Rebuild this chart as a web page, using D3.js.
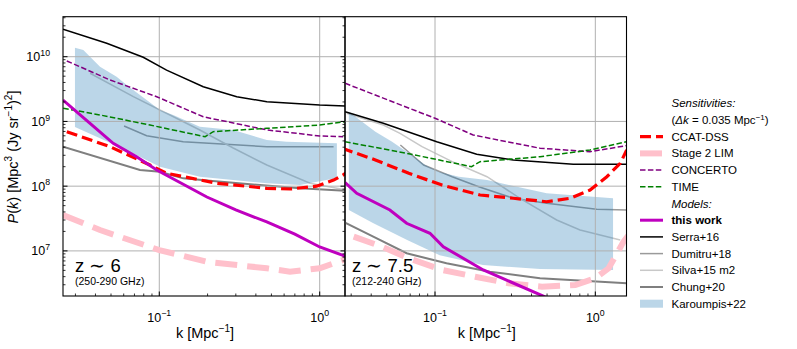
<!DOCTYPE html>
<html>
<head>
<meta charset="utf-8">
<script src="https://cdn.jsdelivr.net/npm/d3@7"></script>
<style>
body { margin: 0; background: #fff; }
text { font-family: "Liberation Sans", Arial, sans-serif; fill: #000; }
</style>
</head>
<body>
<div id="container"></div>
<script>
// axis limits and ticks
var xDomain6 = [0.0251, 1.438];
var xDomain75 = [0.02745, 1.565];
var yDomain = [2.01e6, 4.15e10];
var xTicks = [0.1, 1];
var xTickExp = ["\u22121", "0"];
var yTicks = [1e7, 1e8, 1e9, 1e10];
var yTickExp = ["7", "8", "9", "10"];

// z ~ 6 panel, [k, P(k)]
var serra6 = [[0.0251,2.65e10],[0.047,1.61e10],[0.0794,9.8e9],[0.111,6.2e9],[0.188,3.44e9],[0.304,2.41e9],[0.468,2.02e9],[1.0,1.79e9],[1.44,1.73e9]];
var dumitru6 = [[0.0603,8.5e8],[0.0834,6.03e8],[0.141,4.87e8],[0.468,4.07e8],[1.22,4.07e8]];
var silva6 = [[0.037,5.55e9],[0.0689,2.41e9],[0.101,1.5e9],[0.179,7.38e8],[0.289,3.89e8],[0.468,2.12e8],[0.871,1.11e8],[1.47,8.7e7]];
var chung6 = [[0.0251,4.07e8],[0.0758,1.78e8],[0.101,1.67e8],[0.141,1.32e8],[0.207,1.21e8],[0.753,9.27e7],[1.47,8.5e7]];
var thiswork6 = [[0.0251,2.14e9],[0.037,9.36e8],[0.0516,4.59e8],[0.0722,2.85e8],[0.0964,1.78e8],[0.198,6.8e7],[0.3,4.29e7],[0.468,2.8e7],[0.7,1.82e7],[1.0,1.15e7],[1.44,8.3e6]];
var ccat6 = [[0.0265,6.94e8],[0.0493,4.07e8],[0.0875,2.12e8],[0.111,1.58e8],[0.228,1.11e8],[0.468,9.27e7],[0.653,9.04e7],[0.957,1.0e8],[1.22,1.24e8],[1.40,1.49e8],[1.6,1.9e8]];
var stage2_6 = [[0.0251,3.58e7],[0.0427,2.1e7],[0.1,1.03e7],[0.198,6.8e6],[0.468,5.38e6],[0.653,4.77e6],[1.0,5.38e6],[1.40,7.24e6],[1.6,9e6]];
var concerto6 = [[0.0265,8.6e9],[0.0493,4.37e9],[0.0964,2.41e9],[0.188,1.18e9],[0.468,7.4e8],[1.0,5.96e8],[1.40,5.8e8]];
var time6 = [[0.0252,1.6e9],[0.0427,1.26e9],[0.0875,8.8e8],[0.193,5.8e8],[0.217,6.94e8],[0.468,7.83e8],[1.0,8.8e8],[1.43,9.9e8]];
var karoumpis6Hi = [[0.0298,1.38e10],[0.0336,1.27e10],[0.0427,7.0e9],[0.0542,4.9e9],[0.0626,3.65e9],[0.101,1.5e9],[0.122,1.26e9],[0.179,8.3e8],[0.289,7.4e8],[0.468,5.17e8],[0.623,4.87e8],[1.28,4.59e8]];
var karoumpis6Lo = [[0.0298,8.2e8],[0.0427,5.5e8],[0.0626,3.6e8],[0.101,2.0e8],[0.179,1.4e8],[0.468,1.11e8],[0.753,1.04e8],[1.28,1.34e8]];

// z ~ 7.5 panel
var serra75 = [[0.0275,1.41e9],[0.0476,9.4e8],[0.1025,4.86e8],[0.182,3.11e8],[0.308,2.54e8],[0.729,2.18e8],[1.56,2.18e8]];
var dumitru75 = [[0.0608,4.33e8],[0.085,2.12e8],[0.128,1.4e8],[0.1875,9.8e7],[0.308,6.5e7],[0.497,5.43e7],[1.02,4.39e7],[1.57,4.29e7]];
var silva75 = [[0.0281,1.34e9],[0.0476,8.8e8],[0.0605,6.56e8],[0.083,4.07e8],[0.128,2.39e8],[0.211,1.4e8],[0.339,6.5e7],[0.574,3.0e7],[0.803,2.1e7],[1.43,1.47e7]];
var chung75 = [[0.0255,3.0e7],[0.0412,1.66e7],[0.0665,9.2e6],[0.118,6.43e6],[0.22,4.77e6],[0.452,3.78e6],[1.57,3.16e6]];
var thiswork75 = [[0.0275,1.14e8],[0.0325,7.76e7],[0.0523,4.29e7],[0.0665,2.67e7],[0.093,1.87e7],[0.1127,1.16e7],[0.2,5.07e6],[0.474,2.0e6],[0.6,1.5e6]];
var ccat75 = [[0.0263,3.85e8],[0.0425,2.54e8],[0.0686,1.58e8],[0.1106,1.04e8],[0.191,7.3e7],[0.308,6.5e7],[0.497,5.75e7],[0.695,6.5e7],[0.927,8.7e7],[1.18,1.4e8],[1.43,2.25e8],[1.57,3.62e8]];
var stage2_75 = [[0.0311,1.66e7],[0.0467,1.16e7],[0.0686,7.68e6],[0.1106,5.07e6],[0.178,3.99e6],[0.288,3.16e6],[0.465,2.8e6],[0.75,2.97e6],[1.0,3.77e6],[1.21,5.38e6],[1.50,1.39e7],[1.6,1.7e7]];
var concerto75 = [[0.0275,3.88e9],[0.1,1.12e9],[0.173,6.17e8],[0.452,3.85e8],[0.927,3.41e8],[1.56,4.22e8]];
var time75 = [[0.0275,4.86e8],[0.0665,3.22e8],[0.169,2.0e8],[0.191,2.39e8],[0.452,2.85e8],[0.927,3.62e8],[1.56,4.86e8]];
var karoumpis75Hi = [[0.029,1.41e9],[0.0351,9.9e8],[0.0425,6.9e8],[0.054,4.86e8],[0.0686,3.22e8],[0.087,2.12e8],[0.105,1.67e8],[0.141,1.4e8],[0.211,1.24e8],[0.497,7.76e7],[1.29,6.5e7]];
var karoumpis75Lo = [[0.029,4.29e7],[0.041,2.7e7],[0.067,1.47e7],[0.107,8.6e6],[0.199,6.06e6],[0.452,5.25e6],[1.29,5.07e6]];

// legend text
var sensNames = ["CCAT-DSS", "Stage 2 LIM", "CONCERTO", "TIME"];
var modelNames = ["this work", "Serra+16", "Dumitru+18", "Silva+15 m2", "Chung+20", "Karoumpis+22"];

// styles
var styles = {
    dumitru:  {color: "#9a9a9a", width: 1.5},
    silva:    {color: "#c8c8c8", width: 1.5},
    chung:    {color: "#7f7f7f", width: 2},
    serra:    {color: "#000000", width: 1.5},
    stage2:   {color: "#ffc0cb", width: 6, dash: "22,10"},
    ccat:     {color: "#ff0000", width: 3.2, dash: "11,5"},
    concerto: {color: "#800080", width: 1.5, dash: "5.5,2.4"},
    time:     {color: "#008000", width: 1.5, dash: "5.5,2.4"},
    thiswork: {color: "#bf00bf", width: 3}
};
var fillColor = "rgba(31,119,180,0.3)";

var width = 797, height = 349;
var plotTop = 16.7, plotBottom = 296;

var panels = [
    {x0: 63, x1: 345, domain: xDomain6, z: "z \u223C 6", band: "(250-290 GHz)",
     lines: {dumitru: dumitru6, silva: silva6, chung: chung6, serra: serra6, stage2: stage2_6, ccat: ccat6, concerto: concerto6, time: time6, thiswork: thiswork6},
     hi: karoumpis6Hi, lo: karoumpis6Lo},
    {x0: 345, x1: 626.5, domain: xDomain75, z: "z \u223C 7.5", band: "(212-240 GHz)",
     lines: {dumitru: dumitru75, silva: silva75, chung: chung75, serra: serra75, stage2: stage2_75, ccat: ccat75, concerto: concerto75, time: time75, thiswork: thiswork75},
     hi: karoumpis75Hi, lo: karoumpis75Lo}
];

var svg = d3.select("#container")
    .append("svg")
    .attr("width", width)
    .attr("height", height);

var y = d3.scaleLog().domain(yDomain).range([plotBottom, plotTop]);

// minor tick values for a log axis
function minorTicks(domain) {
    var out = [];
    for (var e = Math.floor(Math.log10(domain[0])); e <= Math.ceil(Math.log10(domain[1])); e++) {
        for (var m = 2; m <= 9; m++) {
            var v = m * Math.pow(10, e);
            if (v >= domain[0] && v <= domain[1]) out.push(v);
        }
    }
    return out;
}

function powLabel(sel, exp, size) {
    sel.append("tspan").text("10");
    sel.append("tspan").attr("font-size", size * 0.7).attr("dy", -size * 0.42).text(exp);
}

var linesUnder = ["dumitru", "silva", "chung"];
var linesOver = ["serra", "stage2", "ccat", "concerto", "time", "thiswork"];

panels.forEach(function(p, i) {
    var x = d3.scaleLog().domain(p.domain).range([p.x0, p.x1]);
    var line = d3.line().x(function(d) { return x(d[0]); }).y(function(d) { return y(d[1]); });

    svg.append("clipPath").attr("id", "clip" + i)
        .append("rect").attr("x", p.x0).attr("y", plotTop)
        .attr("width", p.x1 - p.x0).attr("height", plotBottom - plotTop);

    var g = svg.append("g").attr("clip-path", "url(#clip" + i + ")");

    linesUnder.forEach(function(key) {
        var s = styles[key];
        g.append("path").attr("d", line(p.lines[key]))
            .attr("fill", "none").attr("stroke", s.color).attr("stroke-width", s.width);
    });

    // Karoumpis+22 band
    g.append("path")
        .attr("d", line(p.hi.concat(p.lo.slice().reverse())) + "Z")
        .attr("fill", fillColor).attr("stroke", "none");

    // grid
    g.selectAll(".gx").data(xTicks).enter().append("line")
        .attr("x1", function(d) { return x(d); }).attr("x2", function(d) { return x(d); })
        .attr("y1", plotTop).attr("y2", plotBottom)
        .attr("stroke", "#b0b0b0").attr("stroke-width", 1);
    g.selectAll(".gy").data(yTicks).enter().append("line")
        .attr("x1", p.x0).attr("x2", p.x1)
        .attr("y1", function(d) { return y(d); }).attr("y2", function(d) { return y(d); })
        .attr("stroke", "#b0b0b0").attr("stroke-width", 1);

    linesOver.forEach(function(key) {
        var s = styles[key];
        g.append("path").attr("d", line(p.lines[key]))
            .attr("fill", "none").attr("stroke", s.color).attr("stroke-width", s.width)
            .attr("stroke-dasharray", s.dash || null);
    });

    // bottom ticks, inward
    var ax = svg.append("g");
    ax.selectAll(".mx").data(minorTicks(p.domain)).enter().append("line")
        .attr("x1", function(d) { return x(d); }).attr("x2", function(d) { return x(d); })
        .attr("y1", plotBottom).attr("y2", plotBottom - 2.5)
        .attr("stroke", "#000").attr("stroke-width", 0.8);
    ax.selectAll(".tx").data(xTicks).enter().append("line")
        .attr("x1", function(d) { return x(d); }).attr("x2", function(d) { return x(d); })
        .attr("y1", plotBottom).attr("y2", plotBottom - 4.5)
        .attr("stroke", "#000").attr("stroke-width", 1);
    xTicks.forEach(function(t, j) {
        var tx = ax.append("text").attr("x", x(t)).attr("y", 321.5)
            .attr("text-anchor", "middle").attr("font-size", 12.5);
        powLabel(tx, xTickExp[j], 12.5);
    });

    var xl = ax.append("text").attr("x", (p.x0 + p.x1) / 2 + 1).attr("y", 338)
        .attr("text-anchor", "middle").attr("font-size", 14.5);
    xl.append("tspan").text("k [Mpc");
    xl.append("tspan").attr("font-size", 10).attr("dy", -6).text("\u22121");
    xl.append("tspan").attr("dy", 6).text("]");

    // redshift labels
    ax.append("text").attr("x", p.x0 + (i === 0 ? 12 : 7)).attr("y", 271.5)
        .attr("font-size", 18.5).text(p.z);
    ax.append("text").attr("x", p.x0 + (i === 0 ? 12 : 7)).attr("y", 284.5)
        .attr("font-size", 10.5).text(p.band);

    // frame
    ax.append("rect").attr("x", p.x0).attr("y", plotTop)
        .attr("width", p.x1 - p.x0).attr("height", plotBottom - plotTop)
        .attr("fill", "none").attr("stroke", "#000").attr("stroke-width", 1.1);
});

// y ticks on the left panel: left and right spines, pointing inward
var yl = svg.append("g");
[[63, 1], [345, -1]].forEach(function(side) {
    yl.selectAll(null).data(minorTicks(yDomain)).enter().append("line")
        .attr("x1", side[0]).attr("x2", side[0] + side[1] * 2.5)
        .attr("y1", function(d) { return y(d); }).attr("y2", function(d) { return y(d); })
        .attr("stroke", "#000").attr("stroke-width", 0.8);
    yl.selectAll(null).data(yTicks).enter().append("line")
        .attr("x1", side[0]).attr("x2", side[0] + side[1] * 4.5)
        .attr("y1", function(d) { return y(d); }).attr("y2", function(d) { return y(d); })
        .attr("stroke", "#000").attr("stroke-width", 1);
});
yTicks.forEach(function(t, j) {
    var ty = yl.append("text").attr("x", 50).attr("y", y(t) + 4.5)
        .attr("text-anchor", "end").attr("font-size", 12.5);
    powLabel(ty, yTickExp[j], 12.5);
});

// y axis label
var ylab = yl.append("text").attr("transform", "translate(18,157) rotate(-90)")
    .attr("text-anchor", "middle").attr("font-size", 14.5);
ylab.append("tspan").attr("font-style", "italic").text("P");
ylab.append("tspan").text("(");
ylab.append("tspan").attr("font-style", "italic").text("k");
ylab.append("tspan").text(") [Mpc");
ylab.append("tspan").attr("font-size", 10).attr("dy", -6).text("3");
ylab.append("tspan").attr("dy", 6).text(" (Jy sr");
ylab.append("tspan").attr("font-size", 10).attr("dy", -6).text("\u22121");
ylab.append("tspan").attr("dy", 6).text(")");
ylab.append("tspan").attr("font-size", 10).attr("dy", -6).text("2");
ylab.append("tspan").attr("dy", 6).text("]");

// legend
var lg = svg.append("g").attr("font-size", 11.5);
var lx = 671.5, hx0 = 640, hx1 = 663;
function rowY(r) { return 103.3 + 16.7 * r; }

lg.append("text").attr("x", lx).attr("y", rowY(0) + 4).attr("font-style", "italic").text("Sensitivities:");
var note = lg.append("text").attr("x", lx).attr("y", rowY(1) + 4);
note.append("tspan").text("(");
note.append("tspan").attr("font-style", "italic").text("\u0394k");
note.append("tspan").text(" = 0.035 Mpc");
note.append("tspan").attr("font-size", 8).attr("dy", -4.5).text("\u22121");
note.append("tspan").attr("dy", 4.5).text(")");

var sensKeys = ["ccat", "stage2", "concerto", "time"];
sensKeys.forEach(function(key, j) {
    var s = styles[key], r = rowY(2 + j);
    lg.append("line").attr("x1", hx0).attr("x2", hx1).attr("y1", r).attr("y2", r)
        .attr("stroke", s.color).attr("stroke-width", s.width).attr("stroke-dasharray", s.dash || null);
    lg.append("text").attr("x", lx).attr("y", r + 4).text(sensNames[j]);
});

lg.append("text").attr("x", lx).attr("y", rowY(6) + 4).attr("font-style", "italic").text("Models:");
var modelKeys = ["thiswork", "serra", "dumitru", "silva", "chung"];
modelKeys.forEach(function(key, j) {
    var s = styles[key], r = rowY(7 + j);
    lg.append("line").attr("x1", hx0).attr("x2", hx1).attr("y1", r).attr("y2", r)
        .attr("stroke", s.color).attr("stroke-width", s.width);
    lg.append("text").attr("x", lx).attr("y", r + 4)
        .attr("font-weight", key === "thiswork" ? "bold" : null).text(modelNames[j]);
});
lg.append("rect").attr("x", hx0).attr("y", rowY(12) - 4).attr("width", hx1 - hx0).attr("height", 8)
    .attr("fill", fillColor);
lg.append("text").attr("x", lx).attr("y", rowY(12) + 4).text(modelNames[5]);
</script>
</body>
</html>
